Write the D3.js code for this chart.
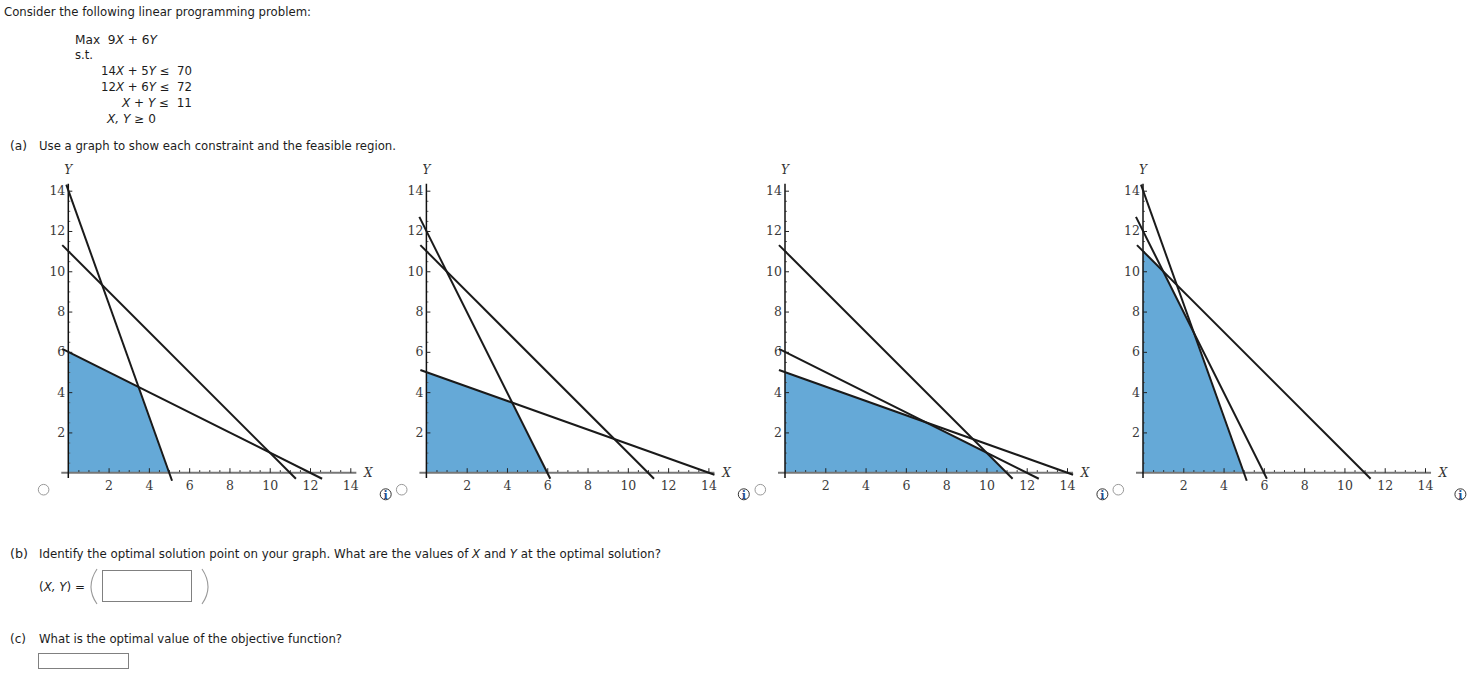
<!DOCTYPE html>
<html>
<head>
<meta charset="utf-8">
<script src="https://cdn.jsdelivr.net/npm/d3@7"></script>
<style>
body { margin: 0; background: #fff; }
svg { display: block; }
.q { font-family: "DejaVu Sans", sans-serif; font-size: 11.5px; fill: #1c1c1c; }
.tk text { font-family: "DejaVu Serif", serif; font-size: 12.5px; fill: #3a3a3a; }
.nm { font-family: "DejaVu Serif", serif; font-style: italic; font-size: 12px; fill: #333; }
</style>
</head>
<body>
<svg id="page" width="1481" height="691"></svg>
<script>
// axis ticks
var xTicks = [2, 4, 6, 8, 10, 12, 14]
var yTicks = [2, 4, 6, 8, 10, 12, 14]
var minorTicks = [0.5, 1, 1.5, 2.5, 3, 3.5, 4.5, 5, 5.5, 6.5, 7, 7.5, 8.5, 9, 9.5, 10.5, 11, 11.5, 12.5, 13, 13.5]

// constraint lines, drawn a bit past the axes like in the picture
var line14x5y = [[-0.1, 14.3], [5.15, -0.4]]
var line5x14y = [[-0.3, 5.1], [14.3, -0.1]]
var line12x6y = [[-0.35, 12.7], [6.15, -0.3]]
var line6x12y = [[-0.3, 6.15], [12.6, -0.3]]
var lineXY = [[-0.3, 11.3], [11.3, -0.3]]

// shaded regions
var region1 = [[0, 0], [5, 0], [3.48, 4.26], [0, 6]]
var region2 = [[0, 0], [6, 0], [4.26, 3.48], [0, 5]]
var region3 = [[0, 0], [11, 0], [10, 1], [7, 2.5], [0, 5]]
var region4 = [[0, 0], [5, 0], [2.5, 7], [1, 10], [0, 11]]

var panelLines = [
  [line14x5y, line6x12y, lineXY],
  [line5x14y, line12x6y, lineXY],
  [line5x14y, line6x12y, lineXY],
  [line14x5y, line12x6y, lineXY]
]
var panelRegions = [region1, region2, region3, region4]
var panelLeft = [68.3, 426.4, 785, 1143]

var svg = d3.select("#page")

// one line of question text, squeezed to the width it has in the picture
function qtext(x, y, width, parts) {
  var t = svg.append("text").attr("class", "q").attr("x", x).attr("y", y)
  if (width) t.attr("textLength", width).attr("lengthAdjust", "spacingAndGlyphs")
  parts.forEach(function(p) {
    var s = t.append("tspan").text(p.replace("*", ""))
    if (p.charAt(0) == "*") s.style("font-style", "italic")
  })
}

qtext(4, 16, 307, ["Consider the following linear programming problem:"])
qtext(75, 44, 82, ["Max\u00a0\u00a09", "*X", " + 6", "*Y"])
qtext(75, 59, 18, ["s.t."])
qtext(101, 75, 91, ["14", "*X", " + 5", "*Y", " ≤\u00a0\u00a070"])
qtext(101, 91, 91, ["12", "*X", " + 6", "*Y", " ≤\u00a0\u00a072"])
qtext(122, 107, 70, ["*X", " + ", "*Y", " ≤\u00a0\u00a011"])
qtext(107, 123, 49, ["*X, Y", " ≥ 0"])
qtext(10, 150, 17, ["(a)"])
qtext(39, 150, 357, ["Use a graph to show each constraint and the feasible region."])
qtext(10, 558, 18, ["(b)"])
qtext(39, 558, 622, ["Identify the optimal solution point on your graph. What are the values of ", "*X", " and ", "*Y", " at the optimal solution?"])
qtext(39, 591, 46, ["(", "*X, Y", ") ="])
qtext(10, 643, 16, ["(c)"])
qtext(39, 643, 303, ["What is the optimal value of the objective function?"])

// answer boxes and the big brackets
svg.append("rect").attr("x", 102.5).attr("y", 570.5).attr("width", 89).attr("height", 31)
  .attr("fill", "#fff").attr("stroke", "#808080").attr("stroke-width", 1)
svg.append("rect").attr("x", 38.5).attr("y", 653.5).attr("width", 90).attr("height", 15)
  .attr("fill", "#fff").attr("stroke", "#808080").attr("stroke-width", 1)
svg.append("path").attr("d", "M97,569Q85,587 97,604").attr("fill", "none").attr("stroke", "#999").attr("stroke-width", 1.1)
svg.append("path").attr("d", "M202,569Q214,587 202,604").attr("fill", "none").attr("stroke", "#999").attr("stroke-width", 1.1)

panelLeft.forEach(function(left, i) {
  var x = d3.scaleLinear().domain([0, 14]).range([left, left + 282])
  var y = d3.scaleLinear().domain([0, 14]).range([472.7, 190.7])
  var path = d3.line().x(function(d) { return x(d[0]) }).y(function(d) { return y(d[1]) })

  svg.append("path").attr("d", path(panelRegions[i]) + "Z").attr("fill", "#65a9d7")

  // x axis: gray bar, small ticks, bigger ticks with numbers
  var xMinor = svg.append("g").attr("transform", "translate(0,472.7)")
    .call(d3.axisBottom(x).tickValues(minorTicks).tickSize(-2.5).tickFormat(""))
  xMinor.select(".domain").remove()
  xMinor.selectAll("line").attr("stroke", "#222")

  var xAxis = svg.append("g").attr("class", "tk").attr("transform", "translate(0,472.7)")
    .call(d3.axisBottom(x).tickValues(xTicks).tickSize(-4.5).tickPadding(8))
  xAxis.select(".domain").attr("d", "M" + (left - 7) + ",0H" + x(14.3))
    .attr("stroke", "#777").attr("stroke-width", 2)
  xAxis.selectAll("line").attr("stroke", "#222")

  // y axis
  var yMinor = svg.append("g").attr("transform", "translate(" + left + ",0)")
    .call(d3.axisLeft(y).tickValues(minorTicks).tickSize(-2).tickFormat(""))
  yMinor.select(".domain").remove()
  yMinor.selectAll("line").attr("stroke", "#666")

  var yAxis = svg.append("g").attr("class", "tk").attr("transform", "translate(" + left + ",0)")
    .call(d3.axisLeft(y).tickValues(yTicks).tickSize(-4).tickPadding(3))
  yAxis.select(".domain").attr("d", "M0," + y(14.35) + "V478")
    .attr("stroke", "#111").attr("stroke-width", 1.5)
  yAxis.selectAll("line").attr("stroke", "#222")

  svg.selectAll(null).data(panelLines[i]).enter().append("path")
    .attr("d", path).attr("fill", "none").attr("stroke", "#1a1a1a").attr("stroke-width", 2)

  svg.append("text").attr("class", "nm").attr("x", left).attr("y", 174).attr("text-anchor", "middle").text("Y")
  svg.append("text").attr("class", "nm").attr("x", left + 300).attr("y", 477).attr("text-anchor", "middle").text("X")

  // radio button and the little info mark
  svg.append("circle").attr("cx", left - 24.7).attr("cy", 489.7).attr("r", 5.3)
    .attr("fill", "#fff").attr("stroke", "#999").attr("stroke-width", 1)
  svg.append("circle").attr("cx", left + 317.4).attr("cy", 494.3).attr("r", 5.5)
    .attr("fill", "#fff").attr("stroke", "#333").attr("stroke-width", 1)
  svg.append("text").attr("x", left + 317.4).attr("y", 498.5).attr("text-anchor", "middle")
    .style("font-family", "DejaVu Serif").style("font-size", "11px").style("font-weight", "bold").attr("fill", "#244f8f").text("i")
})
</script>
</body>
</html>
